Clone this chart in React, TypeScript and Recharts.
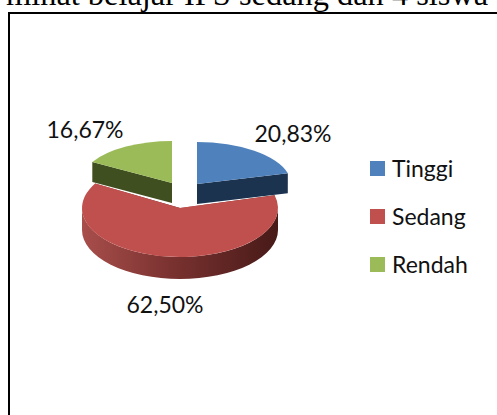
import { Legend, Pie, PieChart } from "recharts";

const categories = ["Tinggi", "Sedang", "Rendah"];
const values = [20.83, 62.5, 16.67];
const colors = ["#4f81bd", "#c0504d", "#9bbb59"];
const sideColors = ["#1c3350", "url(#sedangSide)", "#404f1f"];

// draw order, the big slice goes first so the pulled out ones sit on top
const drawOrder = [1, 2, 0];

// how each slice is pulled out and flattened to fake the 3D look
const sliceLook: Record<string, { dx: number; dy: number; rx: number; ry: number; depth: number }> = {
  Tinggi: { dx: 17, dy: -6, rx: 94, ry: 42, depth: 20 },
  Sedang: { dx: 0, dy: 18, rx: 98, ry: 49, depth: 22 },
  Rendah: { dx: -8, dy: -7, rx: 92, ry: 42, depth: 20 },
};

const labelPos: Record<string, { x: number; y: number }> = {
  Tinggi: { x: 293, y: 133 },
  Sedang: { x: 165, y: 304 },
  Rendah: { x: 85, y: 129 },
};

const LABEL_FONT = "Lato, 'Open Sans', sans-serif";

const chartData = drawOrder.map((i) => ({ name: categories[i], value: values[i] }));

const rad = (deg: number) => (deg * Math.PI) / 180;

function Slice3D(props: any) {
  const { cx, cy, startAngle, endAngle, name, fill } = props;
  const look = sliceLook[name];
  const idx = categories.indexOf(name);
  const ox = cx + look.dx;
  const oy = cy + look.dy;
  const rim = (a: number, drop = 0) =>
    `${ox + look.rx * Math.cos(rad(a))} ${oy - look.ry * Math.sin(rad(a)) + drop}`;
  const large = Math.abs(startAngle - endAngle) > 180 ? 1 : 0;
  const top = `M ${ox} ${oy} L ${rim(startAngle)} A ${look.rx} ${look.ry} 0 ${large} 1 ${rim(endAngle)} Z`;
  const cut = (a: number) =>
    `M ${ox} ${oy} L ${rim(a)} L ${rim(a, look.depth)} L ${ox} ${oy + look.depth} Z`;

  // outer wall, only the front half of the ellipse can be seen
  const wallFrom = Math.min(startAngle, 0);
  const wallTo = Math.max(endAngle, -180);
  const wall =
    wallFrom > wallTo
      ? `M ${rim(wallFrom)} A ${look.rx} ${look.ry} 0 0 1 ${rim(wallTo)} L ${rim(wallTo, look.depth)} A ${look.rx} ${look.ry} 0 0 0 ${rim(wallFrom, look.depth)} Z`
      : null;

  return (
    <g>
      <path d={cut(startAngle)} fill={sideColors[idx]} />
      <path d={cut(endAngle)} fill={sideColors[idx]} />
      {wall && <path d={wall} fill={sideColors[idx]} />}
      <path d={top} fill={fill} />
    </g>
  );
}

const renderLabel = (props: any) => {
  const pos = labelPos[props.name];
  return (
    <text
      x={pos.x}
      y={pos.y}
      textAnchor="middle"
      dominantBaseline="central"
      fill="#111"
      style={{ fontFamily: LABEL_FONT, fontSize: 23 }}
    >
      {props.value.toFixed(2).replace(".", ",")}%
    </text>
  );
};

const LegendBox = () => (
  <div>
    {categories.map((name, i) => (
      <div
        key={name}
        style={{ display: "flex", alignItems: "center", height: 48, fontFamily: LABEL_FONT, fontSize: 23, color: "#111" }}
      >
        <span style={{ width: 15, height: 15, background: colors[i], marginRight: 7 }} />
        {name}
      </div>
    ))}
  </div>
);

export default function App() {
  return (
    <div style={{ position: "fixed", left: 0, top: 0, width: 497, height: 415, overflow: "hidden", background: "#fff" }}>
      <div
        style={{
          position: "absolute",
          left: 6,
          top: -24,
          fontFamily: "'Liberation Serif', serif",
          fontSize: 32.4,
          lineHeight: "36px",
          whiteSpace: "nowrap",
          color: "#000",
        }}
      >
        minat belajar IPS sedang dan 4 siswa
      </div>
      <div
        style={{
          position: "absolute",
          left: 8,
          top: 12,
          width: 520,
          height: 440,
          borderLeft: "2px solid #000",
          borderTop: "2px solid #000",
        }}
      />
      <div style={{ position: "absolute", left: 0, top: 0 }}>
        <PieChart width={497} height={415} margin={{ top: 0, right: 0, bottom: 0, left: 0 }}>
          <defs>
            <linearGradient id="sedangSide" x1="0" y1="0" x2="1" y2="0">
              <stop offset="0%" stopColor="#a84e4b" />
              <stop offset="45%" stopColor="#7a3230" />
              <stop offset="100%" stopColor="#471a18" />
            </linearGradient>
          </defs>
          <Pie
            data={chartData.map((d) => ({ ...d, fill: colors[categories.indexOf(d.name)] }))}
            dataKey="value"
            nameKey="name"
            cx={180}
            cy={190}
            outerRadius={96}
            startAngle={15}
            endAngle={-345}
            stroke="none"
            paddingAngle={0}
            shape={Slice3D}
            label={renderLabel}
            labelLine={false}
            isAnimationActive={false}
          />
          <Legend
            content={LegendBox}
            layout="vertical"
            verticalAlign="middle"
            align="right"
            wrapperStyle={{ left: 370, top: 144, width: 120 }}
          />
        </PieChart>
      </div>
    </div>
  );
}
